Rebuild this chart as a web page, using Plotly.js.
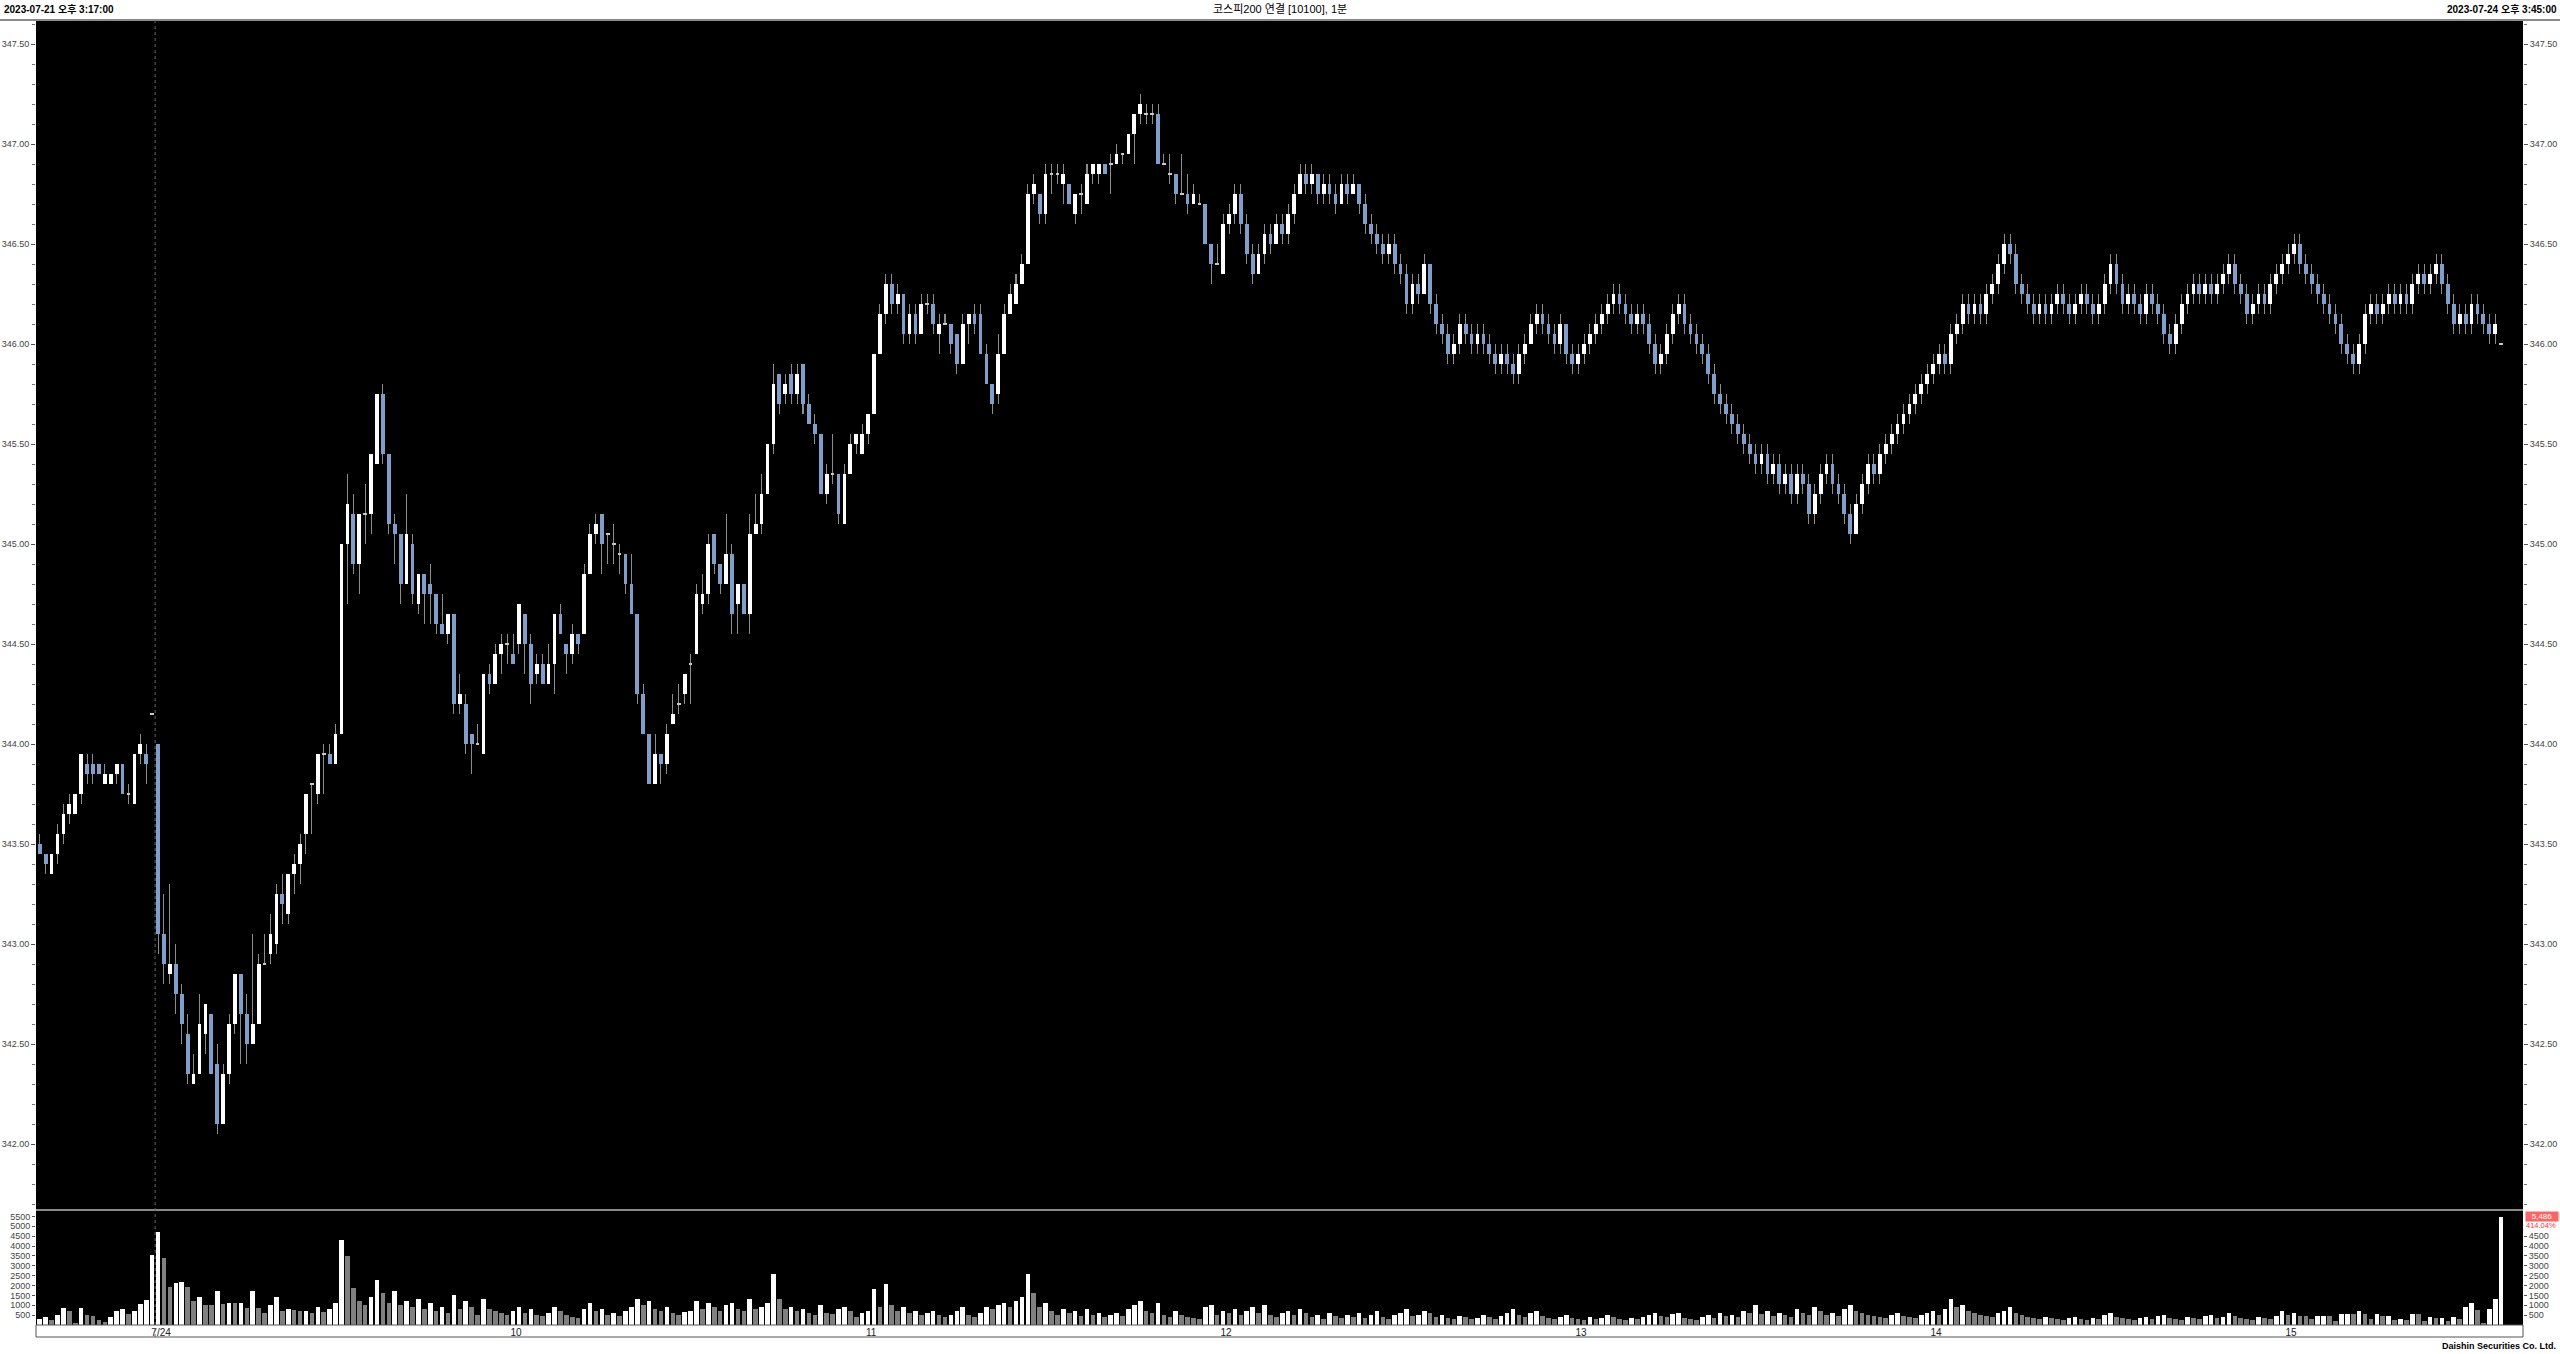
<!DOCTYPE html>
<html><head><meta charset="utf-8">
<script src="https://cdn.plot.ly/plotly-3.0.1.min.js"></script>
<style>html,body{margin:0;padding:0;background:#fff;overflow:hidden}#chart{width:2560px;height:1354px}</style>
</head><body><div id="chart"></div>
<script>
// ---- data (1-minute bars; index 0 = 2023-07-21 15:17, index 20 = 2023-07-24 09:00) ----
const opens = [
343.50,343.45,343.35,343.45,343.55,343.65,343.65,343.75,343.90,343.90,343.90,343.80,343.80,343.85,343.90,343.75,343.70,343.95,343.95,344.15,
344.00,343.05,342.85,342.90,342.75,342.55,342.30,342.35,342.55,342.65,342.40,342.10,342.35,342.60,342.85,342.65,342.50,342.60,342.90,342.95,
343.00,343.25,343.15,343.35,343.40,343.55,343.80,343.75,343.95,343.95,343.90,344.05,345.00,345.15,344.90,345.15,345.15,345.40,345.75,345.45,
345.10,345.05,344.80,345.00,344.70,344.85,344.80,344.75,344.60,344.55,344.65,344.20,344.20,344.05,344.00,343.95,344.35,344.30,344.45,344.50,
344.45,344.50,344.65,344.50,344.35,344.40,344.30,344.40,344.65,344.50,344.45,344.55,344.55,344.85,345.05,345.15,345.05,345.00,344.95,344.95,
344.80,344.65,344.25,344.05,343.80,343.95,343.90,344.10,344.20,344.25,344.40,344.45,344.70,344.75,345.05,344.90,344.80,344.95,344.70,344.80,
344.65,345.05,345.10,345.25,345.50,345.85,345.75,345.85,345.75,345.90,345.70,345.60,345.55,345.25,345.35,345.35,345.10,345.35,345.50,345.45,
345.55,345.65,345.95,346.15,346.30,346.20,346.25,346.05,346.15,346.05,346.20,346.20,346.05,346.10,346.10,346.05,345.90,346.10,346.15,346.15,
345.95,345.80,345.75,345.95,346.15,346.20,346.30,346.40,346.75,346.75,346.65,346.85,346.85,346.80,346.80,346.65,346.75,346.70,346.85,346.85,
346.90,346.90,346.90,346.95,346.95,347.05,347.15,347.15,347.15,347.15,346.90,346.85,346.85,346.75,346.75,346.70,346.70,346.70,346.50,346.40,
346.35,346.60,346.65,346.75,346.60,346.45,346.35,346.45,346.55,346.50,346.60,346.55,346.65,346.75,346.85,346.80,346.85,346.75,346.80,346.75,
346.70,346.80,346.75,346.80,346.70,346.60,346.55,346.50,346.45,346.50,346.40,346.35,346.20,346.30,346.25,346.40,346.20,346.10,346.05,345.95,
346.00,346.10,346.05,346.00,346.05,346.00,345.95,345.90,345.95,345.90,345.85,345.95,346.00,346.10,346.15,346.10,346.05,346.00,346.10,345.95,
345.90,345.95,346.00,346.05,346.10,346.15,346.20,346.25,346.20,346.15,346.10,346.15,346.10,346.00,345.90,345.95,346.05,346.15,346.20,346.10,
346.05,346.00,345.95,345.85,345.75,345.70,345.65,345.60,345.55,345.50,345.45,345.40,345.45,345.35,345.40,345.30,345.35,345.25,345.35,345.30,
345.15,345.25,345.35,345.40,345.30,345.25,345.15,345.05,345.20,345.30,345.40,345.35,345.45,345.50,345.55,345.60,345.65,345.70,345.75,345.80,
345.85,345.90,345.95,345.90,346.05,346.10,346.20,346.15,346.20,346.15,346.25,346.30,346.40,346.50,346.45,346.30,346.25,346.20,346.15,346.20,
346.15,346.20,346.25,346.20,346.15,346.20,346.25,346.20,346.15,346.20,346.30,346.40,346.30,346.20,346.25,346.20,346.15,346.25,346.20,346.15,
346.05,346.00,346.10,346.20,346.25,346.30,346.25,346.30,346.25,346.30,346.35,346.40,346.30,346.25,346.15,346.20,346.25,346.20,346.30,346.35,
346.40,346.45,346.50,346.40,346.35,346.30,346.25,346.20,346.15,346.10,346.00,345.95,345.90,346.00,346.15,346.20,346.15,346.20,346.25,346.20,
346.25,346.20,346.30,346.35,346.30,346.35,346.40,346.30,346.20,346.10,346.15,346.10,346.20,346.15,346.10,346.05,346.00];
const highs = [
343.55,343.45,343.45,343.60,343.70,343.75,343.75,343.95,343.95,343.95,343.90,343.90,343.85,343.90,343.90,343.80,343.95,344.05,344.00,344.15,
344.00,343.25,343.30,343.00,342.80,342.65,342.45,342.75,342.70,342.65,342.50,342.40,342.65,342.85,342.85,342.75,343.05,342.95,343.05,343.15,
343.30,343.35,343.35,343.45,343.55,343.75,343.80,343.95,344.00,344.00,344.10,345.00,345.35,345.25,345.15,345.30,345.45,345.75,345.80,345.45,
345.15,345.05,345.25,345.05,344.85,344.85,344.90,344.75,344.75,344.65,344.65,344.35,344.25,344.05,344.10,344.35,344.40,344.50,344.55,344.55,
344.55,344.70,344.65,344.55,344.45,344.45,344.50,344.65,344.70,344.50,344.60,344.55,344.90,345.10,345.15,345.15,345.05,345.10,345.00,344.95,
344.95,344.65,344.30,344.05,344.05,343.95,344.10,344.25,344.30,344.35,344.45,344.80,344.85,345.05,345.05,344.90,345.15,345.00,344.80,344.80,
345.15,345.25,345.35,345.50,345.90,345.85,345.85,345.90,345.90,345.90,345.75,345.65,345.55,345.40,345.55,345.35,345.40,345.55,345.55,345.60,
345.65,345.95,346.20,346.35,346.35,346.30,346.25,346.20,346.20,346.25,346.25,346.25,346.15,346.15,346.10,346.05,346.15,346.15,346.20,346.20,
346.00,345.80,346.05,346.20,346.30,346.35,346.45,346.80,346.85,346.75,346.90,346.90,346.90,346.90,346.80,346.75,346.80,346.90,346.90,346.90,
346.90,346.95,347.00,346.95,347.05,347.15,347.25,347.20,347.20,347.20,346.95,346.95,346.85,346.95,346.85,346.80,346.75,346.70,346.50,346.50,
346.65,346.70,346.80,346.80,346.65,346.50,346.50,346.60,346.60,346.65,346.65,346.70,346.80,346.90,346.90,346.90,346.85,346.85,346.85,346.80,
346.85,346.85,346.85,346.80,346.75,346.65,346.60,346.55,346.55,346.55,346.45,346.40,346.35,346.35,346.45,346.40,346.25,346.15,346.10,346.05,
346.15,346.15,346.10,346.10,346.10,346.05,346.00,346.00,346.00,345.95,346.00,346.05,346.15,346.20,346.20,346.15,346.10,346.15,346.10,346.00,
346.00,346.05,346.10,346.15,346.20,346.25,346.30,346.30,346.25,346.20,346.20,346.20,346.15,346.05,346.00,346.10,346.20,346.25,346.25,346.15,
346.10,346.05,346.00,345.90,345.80,345.75,345.70,345.65,345.60,345.55,345.50,345.50,345.50,345.45,345.45,345.40,345.40,345.40,345.40,345.35,
345.30,345.40,345.45,345.45,345.35,345.30,345.20,345.25,345.35,345.45,345.45,345.50,345.55,345.60,345.65,345.70,345.75,345.80,345.85,345.90,
345.95,346.00,346.00,346.10,346.15,346.25,346.25,346.25,346.25,346.30,346.35,346.45,346.55,346.55,346.50,346.35,346.30,346.25,346.25,346.25,
346.25,346.30,346.30,346.25,346.25,346.30,346.30,346.25,346.25,346.35,346.45,346.45,346.35,346.30,346.30,346.25,346.30,346.30,346.25,346.20,
346.10,346.15,346.25,346.30,346.35,346.35,346.35,346.35,346.35,346.40,346.45,346.45,346.35,346.30,346.25,346.30,346.30,346.35,346.40,346.45,
346.50,346.55,346.55,346.45,346.40,346.35,346.30,346.25,346.20,346.15,346.05,346.00,346.05,346.20,346.25,346.25,346.25,346.30,346.30,346.30,
346.30,346.35,346.40,346.40,346.40,346.45,346.45,346.35,346.25,346.20,346.20,346.25,346.25,346.20,346.15,346.15,346.00];
const lows = [
343.45,343.35,343.35,343.40,343.50,343.60,343.65,343.70,343.80,343.80,343.85,343.80,343.80,343.80,343.75,343.70,343.70,343.90,343.80,344.15,
342.95,342.80,342.80,342.65,342.50,342.30,342.30,342.35,342.45,342.35,342.05,342.10,342.30,342.55,342.40,342.40,342.50,342.60,342.90,342.90,
342.95,343.10,343.10,343.25,343.30,343.45,343.55,343.70,343.75,343.90,343.90,344.05,344.70,344.85,344.75,345.00,345.05,345.40,345.40,345.05,
344.90,344.70,344.80,344.70,344.65,344.60,344.60,344.55,344.55,344.50,344.15,344.15,343.95,343.85,344.00,343.95,344.25,344.30,344.35,344.40,
344.40,344.45,344.35,344.20,344.30,344.30,344.30,344.25,344.55,344.35,344.40,344.45,344.55,344.85,345.00,344.85,344.90,344.90,344.85,344.75,
344.65,344.20,344.05,343.80,343.80,343.80,343.85,344.10,344.15,344.20,344.20,344.45,344.65,344.70,344.85,344.75,344.80,344.55,344.55,344.65,
344.55,345.05,345.05,345.25,345.45,345.65,345.70,345.70,345.70,345.65,345.60,345.50,345.25,345.20,345.30,345.10,345.10,345.35,345.45,345.45,
345.50,345.65,345.95,346.10,346.15,346.15,346.00,346.00,346.00,346.05,346.15,346.05,345.95,346.10,345.95,345.85,345.90,346.00,346.05,345.95,
345.80,345.65,345.70,345.95,346.15,346.20,346.30,346.40,346.70,346.60,346.60,346.75,346.80,346.70,346.70,346.60,346.65,346.70,346.80,346.80,
346.85,346.75,346.90,346.90,346.95,346.90,347.10,347.10,347.10,346.90,346.90,346.80,346.70,346.75,346.65,346.70,346.70,346.50,346.30,346.40,
346.35,346.55,346.60,346.55,346.40,346.30,346.35,346.40,346.45,346.50,346.50,346.50,346.60,346.75,346.75,346.75,346.70,346.70,346.70,346.65,
346.70,346.70,346.75,346.65,346.55,346.50,346.45,346.40,346.40,346.35,346.30,346.15,346.15,346.20,346.25,346.15,346.05,346.00,345.90,345.90,
345.95,346.00,345.95,345.95,345.95,345.90,345.85,345.85,345.85,345.80,345.80,345.90,346.00,346.05,346.05,346.00,345.95,345.95,345.90,345.85,
345.85,345.90,345.95,346.00,346.05,346.10,346.15,346.15,346.10,346.05,346.05,346.05,345.95,345.85,345.85,345.90,346.00,346.10,346.05,346.00,
345.95,345.90,345.80,345.70,345.65,345.60,345.55,345.50,345.45,345.40,345.35,345.35,345.30,345.30,345.25,345.25,345.20,345.20,345.25,345.10,
345.10,345.20,345.30,345.25,345.20,345.10,345.00,345.05,345.15,345.25,345.30,345.30,345.40,345.45,345.50,345.55,345.60,345.65,345.70,345.75,
345.80,345.85,345.85,345.85,346.00,346.05,346.10,346.10,346.10,346.10,346.20,346.25,346.35,346.40,346.25,346.20,346.15,346.10,346.10,346.10,
346.10,346.15,346.15,346.10,346.10,346.15,346.15,346.10,346.10,346.15,346.25,346.25,346.15,346.15,346.15,346.10,346.10,346.15,346.10,346.00,
345.95,345.95,346.05,346.15,346.20,346.20,346.20,346.20,346.20,346.25,346.30,346.25,346.20,346.10,346.10,346.15,346.15,346.15,346.25,346.30,
346.35,346.40,346.35,346.30,346.25,346.20,346.15,346.10,346.05,345.95,345.90,345.85,345.85,345.95,346.10,346.10,346.10,346.15,346.15,346.15,
346.15,346.15,346.25,346.25,346.25,346.30,346.25,346.15,346.05,346.05,346.05,346.05,346.10,346.05,346.00,346.00,346.00];
const closes = [
343.45,343.40,343.45,343.55,343.65,343.70,343.75,343.95,343.85,343.85,343.85,343.85,343.85,343.90,343.75,343.75,343.95,344.00,343.90,344.15,
343.05,342.90,342.90,342.75,342.60,342.35,342.35,342.60,342.70,342.35,342.10,342.35,342.60,342.85,342.65,342.50,342.60,342.90,342.90,343.05,
343.25,343.20,343.35,343.40,343.50,343.75,343.80,343.95,343.95,343.90,344.05,345.00,345.20,344.90,345.15,345.15,345.45,345.75,345.45,345.10,
345.05,344.80,345.05,344.75,344.85,344.75,344.75,344.60,344.55,344.65,344.20,344.25,344.00,344.00,344.00,344.35,344.30,344.45,344.50,344.50,
344.40,344.70,344.50,344.30,344.40,344.30,344.40,344.65,344.55,344.45,344.55,344.50,344.85,345.05,345.10,345.00,345.05,345.00,344.95,344.80,
344.65,344.25,344.05,343.80,343.95,343.90,344.05,344.15,344.20,344.35,344.40,344.75,344.75,345.00,344.90,344.80,344.95,344.65,344.80,344.65,
345.05,345.10,345.25,345.50,345.80,345.70,345.80,345.75,345.85,345.70,345.60,345.55,345.25,345.35,345.35,345.15,345.35,345.50,345.55,345.55,
345.65,345.95,346.15,346.30,346.20,346.25,346.05,346.15,346.05,346.20,346.20,346.10,346.10,346.10,346.00,345.90,346.10,346.15,346.10,345.95,
345.80,345.70,345.95,346.15,346.25,346.30,346.40,346.75,346.80,346.65,346.85,346.85,346.85,346.85,346.70,346.75,346.75,346.85,346.90,346.90,
346.85,346.90,346.95,346.95,347.05,347.15,347.20,347.15,347.15,346.90,346.90,346.85,346.75,346.75,346.70,346.75,346.70,346.50,346.40,346.40,
346.60,346.65,346.75,346.60,346.45,346.35,346.45,346.55,346.50,346.60,346.55,346.65,346.75,346.85,346.80,346.85,346.75,346.80,346.75,346.70,
346.80,346.75,346.80,346.70,346.60,346.55,346.50,346.45,346.50,346.40,346.35,346.20,346.30,346.25,346.40,346.20,346.10,346.05,345.95,346.00,
346.10,346.05,346.00,346.05,346.00,345.95,345.90,345.95,345.90,345.85,345.95,346.00,346.10,346.15,346.10,346.05,346.00,346.10,345.95,345.90,
345.95,346.00,346.05,346.10,346.15,346.20,346.25,346.20,346.15,346.10,346.15,346.10,346.00,345.90,345.95,346.05,346.15,346.20,346.10,346.05,
346.00,345.95,345.85,345.75,345.70,345.65,345.60,345.55,345.50,345.45,345.40,345.45,345.35,345.40,345.30,345.35,345.25,345.35,345.30,345.15,
345.25,345.35,345.40,345.30,345.25,345.15,345.05,345.20,345.30,345.40,345.35,345.45,345.50,345.55,345.60,345.65,345.70,345.75,345.80,345.85,
345.90,345.95,345.90,346.05,346.10,346.20,346.15,346.20,346.15,346.25,346.30,346.40,346.50,346.45,346.30,346.25,346.20,346.15,346.20,346.15,
346.20,346.25,346.20,346.15,346.20,346.25,346.20,346.15,346.20,346.30,346.40,346.30,346.20,346.25,346.20,346.15,346.25,346.20,346.15,346.05,
346.00,346.10,346.20,346.25,346.30,346.25,346.30,346.25,346.30,346.35,346.40,346.30,346.25,346.15,346.20,346.25,346.20,346.30,346.35,346.40,
346.45,346.50,346.40,346.35,346.30,346.25,346.20,346.15,346.10,346.00,345.95,345.90,346.00,346.15,346.20,346.15,346.20,346.25,346.20,346.25,
346.20,346.30,346.35,346.30,346.35,346.40,346.30,346.20,346.10,346.15,346.10,346.20,346.15,346.10,346.05,346.10,346.00];
const volumes = [
320,390,240,490,860,690,120,860,520,440,240,170,390,730,800,575,730,1050,1270,3530,
4715,3410,1945,2150,2170,1910,1200,1440,1030,1020,1710,1080,1100,1090,1115,860,1710,860,625,1000,
1440,730,830,745,690,700,600,900,650,800,1100,4300,3500,1900,1200,1000,1400,2300,1600,1100,
1700,1000,1200,900,1300,800,1100,700,900,600,1500,800,1200,900,500,1300,800,700,600,500,
700,900,600,800,500,450,600,900,700,500,400,350,800,1100,700,800,500,600,450,700,
900,1300,1000,1200,800,700,900,600,500,650,700,1200,800,1100,900,700,1000,1100,800,700,
1300,800,900,1100,2600,1300,800,900,700,800,600,500,1000,600,550,800,900,700,400,600,
700,1800,900,2100,1000,700,900,600,700,500,600,700,500,400,500,700,900,500,400,600,
900,800,1000,1100,900,1200,1400,2600,1600,900,1100,700,500,800,600,700,450,800,500,600,
400,500,600,450,800,1000,1200,700,600,1100,500,400,700,500,400,350,300,900,1000,500,
700,600,800,500,700,900,600,1000,500,400,600,700,500,800,600,400,500,300,600,450,
350,500,400,600,350,500,700,400,300,500,600,800,450,500,700,600,400,500,350,300,
450,400,300,350,500,400,300,450,600,800,500,400,600,700,450,350,300,400,500,350,
300,250,400,300,350,500,400,300,250,350,300,400,500,600,450,400,550,600,350,300,
250,400,500,350,600,450,500,400,700,600,1000,550,700,450,600,500,400,800,600,500,
900,700,500,600,450,800,1000,700,600,500,450,400,350,500,600,450,400,350,500,600,
700,500,800,1300,900,1000,700,600,500,450,400,600,700,900,600,500,400,350,300,400,
350,300,250,350,400,300,250,350,300,500,600,400,350,300,250,350,400,300,450,500,
350,300,250,400,350,300,450,500,350,400,600,450,350,300,250,400,350,300,450,700,
500,600,450,440,320,440,470,465,185,575,580,540,710,540,300,575,440,470,270,300,
270,540,535,220,390,330,340,220,405,320,930,1100,760,120,830,1335,5486];
const tickIdx  = [20, 80, 140, 200, 260, 320, 380];
const tickText = ['7/24', '10', '11', '12', '13', '14', '15'];
const volTicksLeft  = [500,1000,1500,2000,2500,3000,3500,4000,4500,5000,5500];
const volTicksRight = [500,1000,1500,2000,2500,3000,3500,4000,4500];
const lastVolumeText = '5,486';
const lastVolumePct = '414.04%';
const headerLeft = '2023-07-21 오후 3:17:00';
const headerCenter = '코스피200 연결 [10100], 1분';
const headerRight = '2023-07-24 오후 3:45:00';
const footer = 'Daishin Securities Co. Ltd.';

// ---- styles ----
const UP = '#ffffff', DOWN = '#7f9ecb', DOJI = '#c8c8c8', WICK = '#8c8c8c';
const VOL_UP = '#ffffff', VOL_DN = '#808080';
const TF = 'Liberation Sans Narrow, Liberation Sans, Arial, sans-serif';
const KF = 'Liberation Sans, Noto Sans CJK KR, sans-serif';
const DOJI_H = 0.008;

const idx = opens.map((_, i) => i);
const wickLen = highs.map((h, i) => h - lows[i]);
const bodyBase = opens.map((o, i) => o === closes[i] ? o - DOJI_H / 2 : Math.min(o, closes[i]));
const bodyH = opens.map((o, i) => o === closes[i] ? DOJI_H : Math.abs(closes[i] - o));
const bodyCol = opens.map((o, i) => closes[i] > o ? UP : (closes[i] < o ? DOWN : DOJI));
const vIdx = volumes.map((_, i) => i);
const volCol = volumes.map((v, i) => (i === 0 || v > volumes[i - 1]) ? VOL_UP : VOL_DN);

const traces = [
  {type:'bar', x: idx, base: lows, y: wickLen, width: 0.17, xaxis:'x', yaxis:'y',
   marker:{color: WICK, line:{width:0}}, hoverinfo:'skip'},
  {type:'bar', x: idx, base: bodyBase, y: bodyH, width: 0.64, xaxis:'x', yaxis:'y',
   marker:{color: bodyCol, line:{width:0}}, hoverinfo:'skip'},
  {type:'scatter', x: idx, y: closes, xaxis:'x', yaxis:'y3', mode:'lines',
   line:{width:0}, opacity:0, hoverinfo:'skip'},
  {type:'bar', x: vIdx, y: volumes, width: 0.78, xaxis:'x', yaxis:'y2',
   marker:{color: volCol, line:{width:0}}, hoverinfo:'skip'},
  {type:'scatter', x: vIdx, y: volumes, xaxis:'x', yaxis:'y4', mode:'lines',
   line:{width:0}, opacity:0, hoverinfo:'skip'}
];

const PLOT_H = 1305;
const volFrac = 115 / PLOT_H;
const stripFrac = 12 / PLOT_H;
const priceRange = [341.67, 347.62];
const volRange = [0, 5826];
const tickFont = {family: TF, size: 9, color: '#444'};

const priceAxis = {
  range: priceRange, dtick: 0.5, tick0: 0, tickformat: '.2f',
  ticks: 'outside', ticklen: 4, tickcolor: '#555', tickwidth: 1,
  minor: {dtick: 0.1, ticks: 'outside', ticklen: 3, tickcolor: '#777'},
  showgrid: false, zeroline: false, showline: false, tickfont: tickFont, fixedrange: true
};
const volAxis = {
  range: volRange, ticks: 'outside', ticklen: 3, tickcolor: '#555',
  showgrid: false, zeroline: false, showline: false, tickformat: 'd',
  tickfont: tickFont, fixedrange: true
};

const lastI = volumes.length - 1;
const layout = {
  width: 2560, height: 1354,
  paper_bgcolor: '#ffffff', plot_bgcolor: '#000000',
  margin: {l: 36, r: 37, t: 20, b: 29, pad: 0},
  showlegend: false, barmode: 'overlay', bargap: 0,
  xaxis: {range: [-0.63, 419.7], anchor: 'y2', tickvals: tickIdx, ticktext: tickText,
    ticks: '', showgrid: false, zeroline: false, showline: false,
    tickfont: {family: TF, size: 10, color: '#222'}, ticklabelshift: 3, fixedrange: true},
  yaxis: Object.assign({domain: [volFrac, 1]}, priceAxis),
  yaxis3: Object.assign({overlaying: 'y', side: 'right'}, priceAxis),
  yaxis2: Object.assign({domain: [0, volFrac], tickvals: volTicksLeft}, volAxis),
  yaxis4: Object.assign({overlaying: 'y2', side: 'right', tickvals: volTicksRight}, volAxis),
  shapes: [
    {type:'line', xref:'paper', yref:'paper', x0:-0.02, x1:1.02, y0:1, y1:1, line:{color:'#8a8a8a', width:2}},
    {type:'line', xref:'paper', yref:'paper', x0:0, x1:1, y0:volFrac, y1:volFrac, line:{color:'#8a8a8a', width:2}},
    {type:'rect', xref:'paper', yref:'paper', x0:0, x1:1, y0:-stripFrac, y1:0, line:{color:'#555', width:1}},
    {type:'line', xref:'x', yref:'paper', x0: tickIdx[0] - 0.5, x1: tickIdx[0] - 0.5, y0: -stripFrac, y1: 1,
     line:{color:'#666', width:1, dash:'dot'}}
  ],
  annotations: [
    {xref:'paper', yref:'paper', x:0, y:1, xanchor:'left', yanchor:'middle', xshift:-34, yshift:11,
     text: '<b>' + headerLeft + '</b>', showarrow:false, font:{family:KF, size:10, color:'#000'}},
    {xref:'paper', yref:'paper', x:0.5, y:1, xanchor:'center', yanchor:'middle', yshift:11,
     text: headerCenter, showarrow:false, font:{family:KF, size:11, color:'#000'}},
    {xref:'paper', yref:'paper', x:1, y:1, xanchor:'right', yanchor:'middle', xshift:36, yshift:11,
     text: '<b>' + headerRight + '</b>', showarrow:false, font:{family:KF, size:10, color:'#000'}},
    {xref:'paper', yref:'paper', x:1, y:0, xanchor:'right', yanchor:'middle', xshift:35, yshift:-21,
     text: '<b>' + footer + '</b>', showarrow:false, font:{family:TF, size:9, color:'#000'}},
    {xref:'paper', yref:'y2', x:1, y:volumes[lastI], xanchor:'right', yanchor:'middle', xshift:36,
     text: lastVolumeText, showarrow:false, bgcolor:'#ff6464', borderpad:0, width:32,
     font:{family:TF, size:8, color:'#ffffff'}},
    {xref:'paper', yref:'y2', x:1, y:volumes[lastI], xanchor:'right', yanchor:'middle', xshift:34, yshift:-9,
     text: lastVolumePct, showarrow:false, borderpad:0, font:{family:TF, size:7.5, color:'#ff3030'}}
  ]
};

Plotly.newPlot('chart', traces, layout, {staticPlot: true, displayModeBar: false});
</script></body></html>
